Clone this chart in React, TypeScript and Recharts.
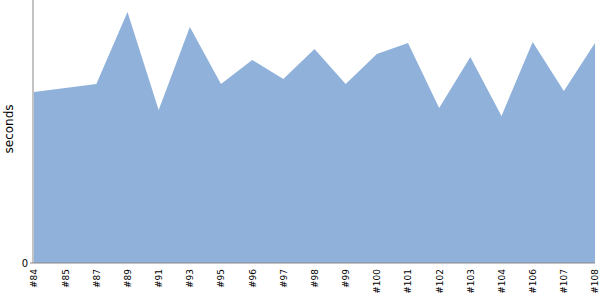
import { AreaChart, Area, XAxis, YAxis } from "recharts";

const builds = ["#84", "#85", "#87", "#89", "#91", "#93", "#95", "#96", "#97", "#98", "#99", "#100", "#101", "#102", "#103", "#104", "#106", "#107", "#108"];
const seconds = [171, 175, 179, 251, 153, 236, 179, 203, 184, 214, 179, 209, 220, 155, 206, 147, 221, 172, 220];
const yTicks = [0];

const data = builds.map((build, i) => ({ build, seconds: seconds[i] }));

export default function App() {
  return (
    <div style={{ position: "absolute", left: 0, top: 0, fontFamily: "DejaVu Sans, sans-serif" }}>
      <AreaChart width={600} height={300} data={data} margin={{ top: 0, right: 5, bottom: 0, left: 0 }}>
        <XAxis
          dataKey="build"
          interval={0}
          height={37}
          tickLine={false}
          stroke="#888"
          tick={{ fill: "#000", fontSize: 9, angle: -90, textAnchor: "end", dy: -2, dx: -3 }}
          padding={{ left: 1, right: 0 }}
        />
        <YAxis
          domain={[0, 263]}
          ticks={yTicks}
          width={33}
          stroke="#888"
          tickSize={3}
          tick={{ fill: "#000", fontSize: 10 }}
          label={{ value: "seconds", angle: -90, position: "insideLeft", dx: 4, dy: 22, style: { fill: "#000", fontSize: 12 } }}
        />
        <Area
          type="linear"
          dataKey="seconds"
          stroke="none"
          fill="#8fb1da"
          fillOpacity={1}
          isAnimationActive={false}
        />
      </AreaChart>
    </div>
  );
}
